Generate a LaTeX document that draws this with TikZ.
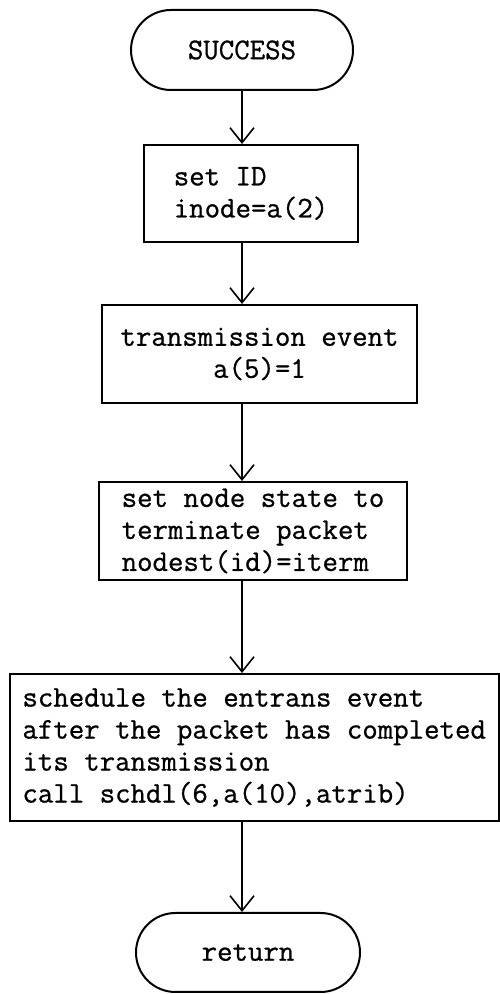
\documentclass[tikz,border=0pt]{standalone}
\usepackage{fontspec}
\newfontfamily\reffont[FakeBold=0.8]{Latin Modern Mono}
\usetikzlibrary{arrows.meta,shapes.misc}
\begin{document}
\begin{tikzpicture}[x=1pt,y=1pt,
  every node/.style={font=\reffont\fontsize{30}{32}\selectfont},
  boxnode/.style={draw,line width=2pt,inner sep=0pt},
  termnode/.style={draw,line width=2pt,rounded rectangle,inner sep=0pt},
  arr/.style={line width=1.3pt,-{Straight Barb[length=15pt,width=24pt,line width=1.6pt]}}]
\useasboundingbox (0,0) rectangle (500,994);
\node[termnode,minimum width=222pt,minimum height=80pt] (success) at (242,944) {SUCCESS};
\node[boxnode,minimum width=214pt,minimum height=97pt,align=left] (b1) at (251,800.5) {set ID\\inode=a(2)};
\node[boxnode,minimum width=315pt,minimum height=98pt,align=center] (b2) at (259.5,640) {transmission event\\a(5)=1};
\node[boxnode,minimum width=308pt,minimum height=98pt,align=left] (b3) at (253,463) {set node state to\\terminate packet\\nodest(id)=iterm};
\node[boxnode,minimum width=489pt,minimum height=147pt,align=left] (b4) at (254.2,246.5) {schedule the entrans event\\after the packet has completed\\its transmission\\call schdl(6,a(10),atrib)};
\node[termnode,minimum width=224pt,minimum height=79pt] (ret) at (248,41.5) {return};
\draw[arr] (success.south) -- (b1.north -| success.south);
\draw[arr] (b1.south -| success.south) -- (b2.north -| success.south);
\draw[arr] (b2.south -| success.south) -- (b3.north -| success.south);
\draw[arr] (b3.south -| success.south) -- (b4.north -| success.south);
\draw[arr] (b4.south -| success.south) -- (ret.north -| success.south);
\end{tikzpicture}
\end{document}
